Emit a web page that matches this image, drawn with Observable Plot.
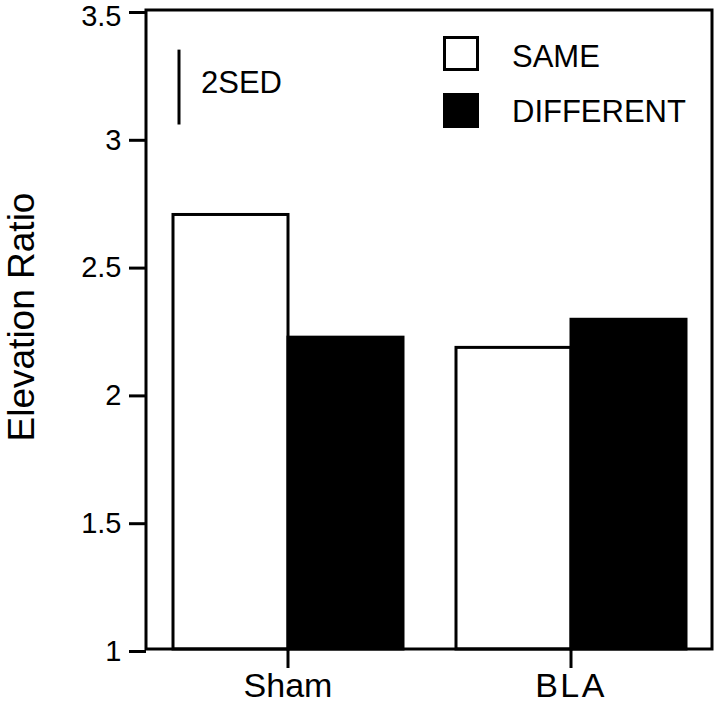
<!DOCTYPE html>
<html>
<head>
<meta charset="utf-8">
<script src="https://cdn.jsdelivr.net/npm/d3@7"></script>
<script src="https://cdn.jsdelivr.net/npm/@observablehq/plot@0.6"></script>
<style>
  html, body { margin: 0; padding: 0; background: #fff; }
  #chart svg { display: block; }
</style>
</head>
<body>
<div id="chart"></div>
<script>
// ---- data ----
const groups = ["Sham", "BLA"];
const conditions = ["SAME", "DIFFERENT"];
const sameValues = [2.70, 2.18];
const differentValues = [2.22, 2.29];
const yTicks = [1, 1.5, 2, 2.5, 3, 3.5];
const yDomain = [1, 3.5];
const yLabel = "Elevation Ratio";
const sedLabel = "2SED";
const sedTop = 3.345;
const sedLength = 0.293;

const rows = [];
groups.forEach((g, i) => {
  rows.push({group: g, condition: "SAME", value: sameValues[i]});
  rows.push({group: g, condition: "DIFFERENT", value: differentValues[i]});
});
const fillFor = {SAME: "white", DIFFERENT: "black"};

const W = 720, H = 704;
const mL = 146, mR = 8, mT = 10, mB = 55;
const FONT = "'Liberation Sans', Arial, Helvetica, sans-serif";

const svg = Plot.plot({
  width: W,
  height: H,
  marginLeft: mL,
  marginRight: mR,
  marginTop: mT,
  marginBottom: mB,
  style: {fontFamily: FONT, background: "white", color: "black"},
  fx: {domain: groups, paddingInner: 0, paddingOuter: 0, label: null},
  x: {domain: conditions, paddingInner: 0, paddingOuter: 0.23, axis: null},
  y: {domain: yDomain, axis: null},
  marks: [
    Plot.barY(rows, {
      fx: "group",
      x: "condition",
      y1: yDomain[0],
      y2: "value",
      fill: d => fillFor[d.condition],
      stroke: "black",
      strokeWidth: 3
    }),
    Plot.axisY({
      ticks: yTicks,
      tickFormat: d => String(d),
      tickSize: 17,
      tickPadding: 8,
      fontSize: 29,
      strokeWidth: 3,
      dy: 2,
      label: null
    }),
    Plot.axisFx({
      anchor: "bottom",
      tickSize: 19,
      tickPadding: 4,
      fontSize: 34,
      strokeWidth: 3,
      label: null
    })
  ]
});

document.getElementById("chart").appendChild(svg);

const yScale = svg.scale("y");
const root = d3.select(svg);
const g = root.append("g").attr("text-anchor", "start").attr("font-family", FONT).attr("fill", "black");

// frame
g.append("rect")
  .attr("x", mL).attr("y", yScale.apply(yDomain[1]))
  .attr("width", W - mR - mL)
  .attr("height", yScale.apply(yDomain[0]) - yScale.apply(yDomain[1]))
  .attr("fill", "none").attr("stroke", "black").attr("stroke-width", 3);

// y axis title
g.append("text")
  .attr("transform", `translate(34,317) rotate(-90)`)
  .attr("text-anchor", "middle")
  .attr("font-size", 37)
  .text(yLabel);

// 2SED scale bar
g.append("line")
  .attr("x1", 179).attr("x2", 179)
  .attr("y1", yScale.apply(sedTop))
  .attr("y2", yScale.apply(sedTop - sedLength))
  .attr("stroke", "black").attr("stroke-width", 3);
g.append("text")
  .attr("x", 201).attr("y", 93)
  .attr("font-size", 31)
  .text(sedLabel);

// legend
conditions.forEach((c, i) => {
  const y0 = 37.5 + i * 57;
  g.append("rect")
    .attr("x", 444.5).attr("y", y0)
    .attr("width", 33).attr("height", 32)
    .attr("fill", fillFor[c]).attr("stroke", "black").attr("stroke-width", 3);
  g.append("text")
    .attr("x", 512).attr("y", 67 + i * 55)
    .attr("font-size", 31)
    .text(c);
});

// letter spacing for BLA label as in reference
root.selectAll("text").filter(function() { return this.textContent === "BLA"; })
  .attr("letter-spacing", 2.5);
// top tick label sits a little lower in the reference
root.selectAll("text").filter(function() { return this.textContent === "3.5"; })
  .attr("dy", 4);
</script>
</body>
</html>
